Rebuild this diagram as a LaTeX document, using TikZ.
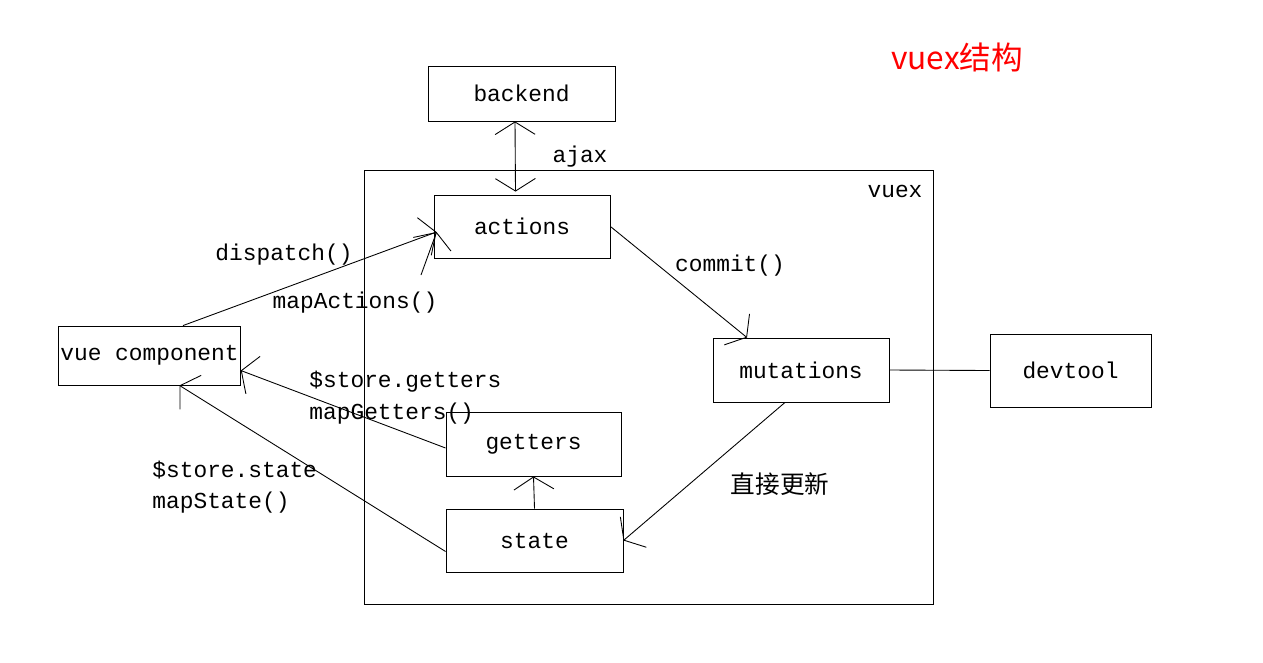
\documentclass[tikz,border=0pt]{standalone}
\usepackage{fontspec}
\setmonofont{Liberation Mono}
\newfontfamily\cjk{Noto Sans CJK SC}
\usepackage{tikz}
\usetikzlibrary{positioning, arrows.meta, calc}

\begin{document}
\begin{tikzpicture}[
    font=\ttfamily\fontsize{13}{15}\selectfont,
    line width=0.5pt,
    box/.style={draw, minimum width=3.52cm, minimum height=1.26cm, align=center},
    arrow/.style={-{Straight Barb[length=0.25cm, width=0.8cm]}},
    dblarrow/.style={{Straight Barb[length=0.25cm, width=0.8cm]}-{Straight Barb[length=0.25cm, width=0.8cm]}},
    label/.style={inner sep=0pt}
]
\useasboundingbox (0,0) rectangle (25.26,-13.24);

% Components
\node[draw, minimum width=11.38cm, minimum height=8.68cm] (vuexbox) at (12.97,-7.74) {};
\node[box, minimum width=3.74cm, minimum height=1.10cm] (backend) at (10.43,-1.87) {backend};
\node[box] (actions) at (10.44,-4.53) {actions};
\node[box, minimum height=1.28cm] (mutations) at (16.02,-7.40) {mutations};
\node[box, minimum width=3.22cm, minimum height=1.46cm] (devtool) at (21.41,-7.41) {devtool};
\node[box, minimum width=3.54cm, minimum height=1.18cm, inner sep=1pt] (vue) at (2.99,-7.11) {vue component};
\node[box, minimum width=3.50cm, minimum height=1.28cm] (getters) at (10.67,-8.88) {getters};
\node[box, minimum width=3.54cm] (state) at (10.69,-10.81) {state};

% Free end of the short arrow
\coordinate (mapA) at (8.42,-5.50);
\coordinate (actin) at ($(actions.west)+(0.06,-0.11)$);

% Connections
\draw[dblarrow] ([xshift=-0.13cm]backend.south) -- ([xshift=-0.13cm, yshift=0.06cm]actions.north);
\draw[arrow] ([xshift=0.67cm]vue.north) -- (actin);
\draw[arrow] (mapA) -- (actin);
\draw[arrow] (actions.east) -- ([xshift=-1.08cm]mutations.north);
\draw (mutations.east) -- (devtool.west);
\draw[arrow] ([xshift=-0.32cm]mutations.south) -- (state.east);
\draw[arrow] ([yshift=-0.08cm]getters.west) -- ([yshift=-0.3cm]vue.east);
\draw[arrow] ([yshift=-0.22cm]state.west) -- ([xshift=0.6cm]vue.south);
\draw[arrow] (state.north) -- (getters.south);

% Labels
\node[label] (ajax) at (11.60,-3.14) {ajax};
\node[label] (dispatch) at (5.68,-5.10) {dispatch()};
\node[label] (mapactions) at (7.10,-6.06) {mapActions()};
\node[label] (commit) at (14.60,-5.32) {commit()};
\node[label, anchor=west] (storegetters) at (6.18,-7.64) {\$store.getters};
\node[label, anchor=west] (mapgetters) at (6.18,-8.28) {mapGetters()};
\node[label, anchor=west] (storestate) at (3.04,-9.40) {\$store.state};
\node[label, anchor=west] (mapstate) at (3.04,-10.06) {mapState()};
\node[label, font=\cjk\fontsize{14}{16}\selectfont] (update) at (15.60,-9.68) {直接更新};
\node[label] (vuexlabel) at (17.90,-3.82) {vuex};
\node[label, text=red, font=\cjk\fontsize{18}{20}\selectfont] (title) at (19.14,-1.14) {vuex结构};

\end{tikzpicture}
\end{document}
